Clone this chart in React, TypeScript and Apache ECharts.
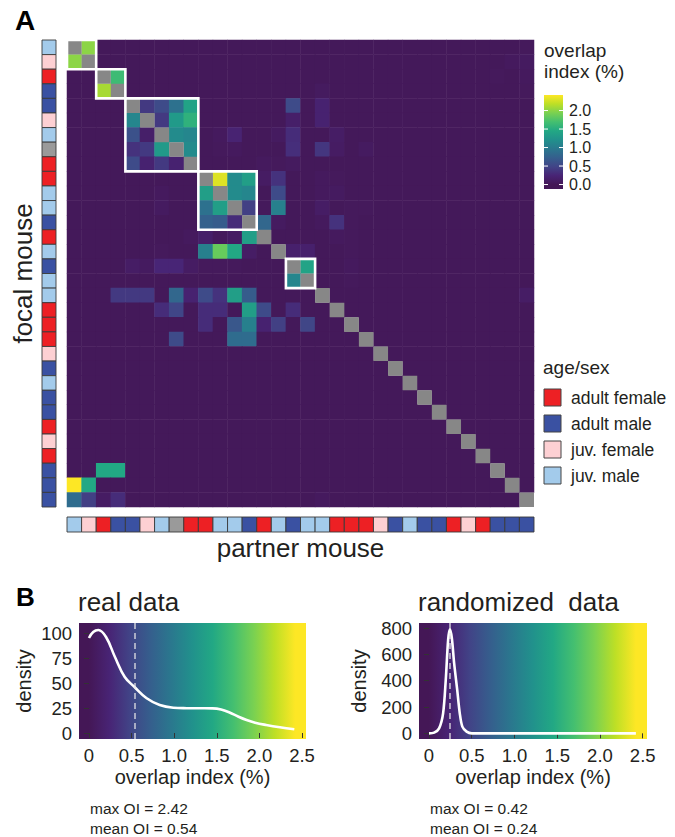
import React, { useEffect, useRef } from 'react';
import * as echarts from 'echarts';

// ---------- DATA ----------
const groupNames = ['adult female', 'adult male', 'juv. female', 'juv. male'];
const groupColors = ['#ed2024', '#3a51a2', '#fdd0d3', '#a3cbeb'];
const unknownColor = '#9a9a9a';
const selfColor = '#878787';

// age/sex of each mouse, in heatmap order (top row / left column first)
const mouseGroups = [
  'juv. male', 'juv. female', 'adult female', 'adult male', 'adult male', 'juv. female', 'juv. male', 'unknown',
  'adult female', 'adult female', 'juv. male', 'juv. male', 'adult male', 'adult female', 'juv. male', 'adult male',
  'juv. male', 'juv. male', 'adult female', 'adult female', 'adult female', 'juv. female', 'adult male', 'juv. male',
  'adult male', 'adult male', 'adult female', 'juv. female', 'adult female', 'adult male', 'adult male', 'adult male',
];
const mouseIds = mouseGroups.map((_, i) => 'mouse ' + (i + 1));

// overlap index (%) of non-background cells: [focal row, partner column, value]
const overlapCells: [number, number, number][] = [
  [0, 1, 2.0], [0, 31, 0.05],
  [1, 0, 2.0], [1, 30, 0.06], [1, 31, 0.08],
  [2, 3, 1.65], [2, 29, 0.05], [2, 31, 0.06],
  [3, 2, 2.1], [3, 17, 0.07], [3, 31, 0.05],
  [4, 5, 0.4], [4, 6, 0.55], [4, 7, 0.9], [4, 8, 1.4], [4, 15, 0.55], [4, 17, 0.2],
  [5, 4, 1.1], [5, 6, 0.4], [5, 7, 1.3], [5, 8, 1.55], [5, 15, 0.15], [5, 17, 0.2],
  [6, 4, 0.6], [6, 5, 0.15], [6, 7, 1.15], [6, 8, 1.1], [6, 10, 0.06], [6, 11, 0.22], [6, 14, 0.08], [6, 15, 0.3], [6, 18, 0.12],
  [7, 4, 0.35], [7, 5, 0.4], [7, 6, 1.3], [7, 8, 1.15], [7, 10, 0.05], [7, 11, 0.06], [7, 15, 0.32], [7, 17, 0.38], [7, 18, 0.1], [7, 20, 0.08],
  [8, 4, 0.55], [8, 5, 0.2], [8, 6, 0.4], [8, 7, 0.2], [8, 13, 0.06], [8, 14, 0.05], [8, 15, 0.07],
  [9, 10, 2.3], [9, 11, 1.15], [9, 12, 1.35], [9, 13, 0.1], [9, 14, 0.35], [9, 17, 0.06], [9, 18, 0.05],
  [10, 6, 0.06], [10, 9, 1.35], [10, 11, 1.15], [10, 12, 1.1], [10, 14, 0.55], [10, 17, 0.06], [10, 18, 0.08],
  [11, 6, 0.08], [11, 9, 0.9], [11, 10, 1.35], [11, 12, 0.45], [11, 13, 0.05], [11, 14, 1.05], [11, 17, 0.12], [11, 19, 0.05], [11, 20, 0.05],
  [12, 9, 0.75], [12, 10, 0.7], [12, 11, 0.3], [12, 13, 0.8], [12, 14, 0.08], [12, 17, 0.06], [12, 18, 0.35], [12, 19, 0.05],
  [13, 8, 0.06], [13, 9, 0.15], [13, 10, 0.05], [13, 11, 0.1], [13, 12, 1.35], [13, 18, 0.06], [13, 19, 0.05],
  [14, 6, 0.05], [14, 9, 1.05], [14, 10, 1.85], [14, 11, 1.45], [14, 12, 0.12], [14, 15, 0.17], [14, 16, 0.17], [14, 19, 0.05],
  [15, 4, 0.12], [15, 5, 0.08], [15, 6, 0.25], [15, 7, 0.25], [15, 8, 0.1], [15, 9, 0.05], [15, 10, 0.05], [15, 11, 0.05], [15, 16, 1.4], [15, 19, 0.06],
  [16, 15, 1.1], [16, 19, 0.05],
  [17, 3, 0.4], [17, 4, 0.4], [17, 5, 0.4], [17, 7, 0.8], [17, 8, 0.2], [17, 9, 0.55], [17, 10, 0.35], [17, 11, 1.35], [17, 12, 0.7], [17, 31, 0.12],
  [18, 6, 0.3], [18, 7, 0.5], [18, 9, 0.3], [18, 10, 0.3], [18, 12, 1.35], [18, 13, 0.55], [18, 15, 0.3],
  [19, 9, 0.3], [19, 11, 0.65], [19, 12, 1.05], [19, 13, 0.2], [19, 14, 0.45], [19, 16, 0.5],
  [20, 7, 0.55], [20, 11, 0.85], [20, 12, 0.85],
  [29, 2, 1.45], [29, 3, 1.45],
  [30, 0, 2.42], [30, 1, 1.45],
  [31, 0, 0.85], [31, 1, 0.45], [31, 2, 0.1], [31, 3, 0.3], [31, 17, 0.06],
];
const backgroundOverlap = 0.03;
const maxOverlap = 2.42;

// social clusters outlined in white: [first index, last index]
const clusters: [number, number][] = [[0, 1], [2, 3], [4, 8], [9, 12], [15, 16]];

// colour-bar tick labels
const colorbarTicks = [0, 0.5, 1.0, 1.5, 2.0];

// panel B densities
const realDensityX = [0, 0.05, 0.11, 0.2, 0.305, 0.42, 0.535, 0.677, 0.83, 0.99, 1.15, 1.3, 1.45, 1.55, 1.65, 1.75, 1.85, 1.95, 2.08, 2.24, 2.41];
const realDensityY = [95, 101, 103, 96, 76, 56, 46, 34.7, 28, 25.3, 24.8, 24.7, 24.6, 23.5, 20.5, 16.5, 13, 10.3, 8, 5.7, 3.7];
const randomDensityX = [0, 0.06, 0.118, 0.165, 0.196, 0.224, 0.244, 0.267, 0.294, 0.33, 0.36, 0.39, 0.44, 0.5, 1.0, 1.5, 2.0, 2.42];
const randomDensityY = [0, 5, 38, 152, 406, 711, 790, 724, 533, 330, 152, 51, 13, 0, 0, 0, 0, 0];
const realStats = { max: 2.42, mean: 0.54 };
const randomStats = { max: 0.42, mean: 0.24 };
const xTicks = [0, 0.5, 1.0, 1.5, 2.0, 2.5];
const realYTicks = [0, 25, 50, 75, 100];
const randomYTicks = [0, 200, 400, 600, 800];

// viridis (first stop matched to the printed dark purple of the figure)
const viridis = ['#441756', '#482475', '#414487', '#355f8d', '#2a788e', '#21918c', '#22a884', '#44bf70', '#7ad151', '#bddf26', '#fde725'];

// ---------- HELPERS ----------
const FONT = '"Liberation Sans", Arial, Helvetica, sans-serif';
const TXT = '#231f20';

function panelGradient(xmin: number, xmax: number) {
  const stops: { offset: number; color: string }[] = [{ offset: 0, color: viridis[0] }];
  viridis.forEach((c, i) => {
    const v = (i / (viridis.length - 1)) * maxOverlap;
    stops.push({ offset: (v - xmin) / (xmax - xmin), color: c });
  });
  stops.push({ offset: 1, color: viridis[viridis.length - 1] });
  return new echarts.graphic.LinearGradient(0, 0, 1, 0, stops);
}

const fmtX = (v: number) => (v === 0 ? '0' : v.toFixed(1));

function cellRect(api: any, fill: string, stroke?: string, lineWidth?: number) {
  const p = api.coord([api.value(0), api.value(1)]);
  const s = api.size([1, 1]);
  return {
    type: 'rect',
    shape: { x: p[0] - s[0] / 2, y: p[1] - s[1] / 2, width: s[0], height: s[1] },
    style: stroke ? { fill, stroke, lineWidth } : { fill },
  };
}

export default function App() {
  const ref = useRef<HTMLDivElement>(null);

  useEffect(() => {
    if (!ref.current) return;
    const chart = echarts.init(ref.current, undefined, { renderer: 'svg' });

    // build heatmap table
    const lookup: Record<string, number> = {};
    overlapCells.forEach(([r, c, v]) => (lookup[r + '_' + c] = v));
    const heatData: number[][] = [];
    const diagData: number[][] = [];
    mouseIds.forEach((_, r) => {
      mouseIds.forEach((__, c) => {
        if (r === c) diagData.push([c, r]);
        else heatData.push([c, r, lookup[r + '_' + c] ?? backgroundOverlap]);
      });
    });

    const hx = 67, hy = 40, hs = 467;

    // colour bar
    const cbX = 544, cbTop = 95, cbH = 94, cbW = 19, cbPxPerUnit = 37;
    const cbZeroY = cbTop + maxOverlap * cbPxPerUnit;
    const cbStops = viridis.map((c, i) => {
      const v = (i / (viridis.length - 1)) * maxOverlap;
      return { offset: ((maxOverlap - v) * cbPxPerUnit) / cbH, color: c };
    }).reverse();
    cbStops.push({ offset: 1, color: viridis[0] });

    const graphics: any[] = [
      {
        type: 'text', left: 544, top: 40,
        style: { text: 'overlap\nindex (%)', fontSize: 19, lineHeight: 21, fill: TXT, fontFamily: FONT },
      },
      {
        type: 'rect', shape: { x: cbX, y: cbTop, width: cbW, height: cbH },
        style: { fill: new echarts.graphic.LinearGradient(0, 0, 0, 1, cbStops) },
      },
    ];
    colorbarTicks.forEach((t) => {
      const y = cbZeroY - t * cbPxPerUnit;
      graphics.push(
        { type: 'line', shape: { x1: cbX, y1: y, x2: cbX + 4, y2: y }, style: { stroke: '#fff', lineWidth: 1 } },
        { type: 'line', shape: { x1: cbX + cbW - 4, y1: y, x2: cbX + cbW, y2: y }, style: { stroke: '#fff', lineWidth: 1 } },
        {
          type: 'text', x: 569, y,
          style: { text: t.toFixed(1), fontSize: 16, fill: TXT, fontFamily: FONT, verticalAlign: 'middle' },
        },
      );
    });

    // age/sex legend
    graphics.push({
      type: 'text', left: 543, top: 358,
      style: { text: 'age/sex', fontSize: 19, fill: TXT, fontFamily: FONT },
    });
    groupNames.forEach((g, i) => {
      const y = 389 + i * 26;
      graphics.push(
        { type: 'rect', shape: { x: 544, y, width: 17, height: 17 }, style: { fill: groupColors[i], stroke: '#444', lineWidth: 1 } },
        { type: 'text', x: 571, y: y + 8.5, style: { text: g, fontSize: 17.5, fill: TXT, fontFamily: FONT, verticalAlign: 'middle' } },
      );
    });

    // stats
    [[90, realStats], [430, randomStats]].forEach(([x, s]: any) => {
      graphics.push(
        { type: 'text', x, y: 808, style: { text: 'max OI = ' + s.max.toFixed(2), fontSize: 15.5, fill: TXT, fontFamily: FONT, verticalAlign: 'middle' } },
        { type: 'text', x, y: 828, style: { text: 'mean OI = ' + s.mean.toFixed(2), fontSize: 15.5, fill: TXT, fontFamily: FONT, verticalAlign: 'middle' } },
      );
    });

    const hiddenCat = (data: string[], extra: any = {}) => ({
      type: 'category', data, axisLine: { show: false }, axisTick: { show: false },
      axisLabel: { show: false }, splitLine: { show: false }, ...extra,
    });

    const densityX = (gridIndex: number, max: number) => ({
      type: 'value', gridIndex, min: -0.117, max,
      name: 'overlap index (%)', nameLocation: 'middle', nameGap: 28,
      nameTextStyle: { fontSize: 20, color: TXT, fontFamily: FONT },
      axisLine: { show: false },
      axisTick: { show: true, customValues: xTicks, length: 5, lineStyle: { color: '#333' } },
      axisLabel: { customValues: xTicks, formatter: fmtX, fontSize: 18.5, color: TXT, margin: 7, fontFamily: FONT },
      splitLine: { show: false },
    });
    const densityY = (gridIndex: number, min: number, max: number, ticks: number[], gap: number) => ({
      type: 'value', gridIndex, min, max,
      name: 'density', nameLocation: 'middle', nameGap: gap, nameRotate: 90,
      nameTextStyle: { fontSize: 20, color: TXT, fontFamily: FONT },
      axisLine: { show: false },
      axisTick: { show: true, customValues: ticks, length: 5, lineStyle: { color: '#333' } },
      axisLabel: { customValues: ticks, fontSize: 18.5, color: TXT, margin: 7, fontFamily: FONT },
      splitLine: { show: false },
    });

    const meanLine = (x: number) => ({
      symbol: 'none', silent: true, label: { show: false },
      lineStyle: { color: 'rgba(230,230,230,0.85)', type: [6, 4], width: 1.5 },
      data: [{ xAxis: x }],
    });

    const option: any = {
      animation: false,
      backgroundColor: '#ffffff',
      textStyle: { fontFamily: FONT },
      title: [
        { text: 'A', left: 15, top: 6, padding: 0, textStyle: { fontSize: 28, fontWeight: 'bold', color: '#000', fontFamily: FONT } },
        { text: 'B', left: 16, top: 584, padding: 0, textStyle: { fontSize: 26, fontWeight: 'bold', color: '#000', fontFamily: FONT } },
        { text: 'real data', left: 78, top: 589, padding: 0, textStyle: { fontSize: 26, fontWeight: 'normal', color: TXT, fontFamily: FONT } },
        { text: 'randomized  data', left: 418, top: 589, padding: 0, textStyle: { fontSize: 26, fontWeight: 'normal', color: TXT, fontFamily: FONT } },
      ],
      visualMap: {
        type: 'continuous', show: false, seriesIndex: 0, min: 0, max: maxOverlap,
        inRange: { color: viridis },
      },
      graphic: graphics,
      grid: [
        { left: hx, top: hy, width: hs, height: hs },
        { left: 42, top: hy, width: 14, height: hs },
        { left: hx, top: 517, width: hs, height: 15 },
        { left: 79, top: 623, width: 227, height: 116, show: true, borderWidth: 0, backgroundColor: panelGradient(-0.117, 2.547) },
        { left: 419, top: 623, width: 228, height: 116, show: true, borderWidth: 0, backgroundColor: panelGradient(-0.117, 2.55) },
      ],
      xAxis: [
        hiddenCat(mouseIds, { gridIndex: 0 }),
        hiddenCat(['group'], { gridIndex: 1 }),
        hiddenCat(mouseIds, {
          gridIndex: 2, name: 'partner mouse', nameLocation: 'middle', nameGap: 3,
          nameTextStyle: { fontSize: 26, color: TXT, fontFamily: FONT, verticalAlign: 'top' },
        }),
        densityX(3, 2.547),
        densityX(4, 2.55),
      ],
      yAxis: [
        hiddenCat(mouseIds, { gridIndex: 0, inverse: true }),
        hiddenCat(mouseIds, {
          gridIndex: 1, inverse: true, name: 'focal mouse', nameLocation: 'middle', nameGap: 6, nameRotate: 90,
          nameTextStyle: { fontSize: 26, color: TXT, fontFamily: FONT },
        }),
        hiddenCat(['group'], { gridIndex: 2 }),
        densityY(3, -6, 110, realYTicks, 45),
        densityY(4, -43, 838, randomYTicks, 50),
      ],
      series: [
        {
          type: 'heatmap', xAxisIndex: 0, yAxisIndex: 0, data: heatData,
          itemStyle: { borderWidth: 0 }, emphasis: { disabled: true },
        },
        {
          type: 'custom', xAxisIndex: 0, yAxisIndex: 0, silent: true, data: diagData,
          renderItem: (params: any, api: any) => cellRect(api, selfColor),
        },
        {
          type: 'custom', xAxisIndex: 0, yAxisIndex: 0, clip: false, silent: true,
          encode: { x: [0, 2], y: [1, 3] },
          data: clusters.map(([a, b]) => [a, a, b, b]),
          renderItem: (params: any, api: any) => {
            const p0 = api.coord([api.value(0), api.value(1)]);
            const p1 = api.coord([api.value(2), api.value(3)]);
            const s = api.size([1, 1]);
            const x0 = Math.min(p0[0], p1[0]) - s[0] / 2;
            const y0 = Math.min(p0[1], p1[1]) - s[1] / 2;
            return {
              type: 'rect',
              shape: { x: x0, y: y0, width: Math.abs(p1[0] - p0[0]) + s[0], height: Math.abs(p1[1] - p0[1]) + s[1] },
              style: { fill: 'none', stroke: '#ffffff', lineWidth: 2.6 },
            };
          },
        },
        {
          type: 'custom', xAxisIndex: 1, yAxisIndex: 1, silent: true,
          data: mouseGroups.map((g, i) => [0, i, groupNames.indexOf(g)]),
          renderItem: (params: any, api: any) => {
            const gi = api.value(2);
            return cellRect(api, gi >= 0 ? groupColors[gi] : unknownColor, '#3a3a3a', 0.9);
          },
        },
        {
          type: 'custom', xAxisIndex: 2, yAxisIndex: 2, silent: true,
          data: mouseGroups.map((g, i) => [i, 0, groupNames.indexOf(g)]),
          renderItem: (params: any, api: any) => {
            const gi = api.value(2);
            return cellRect(api, gi >= 0 ? groupColors[gi] : unknownColor, '#3a3a3a', 0.9);
          },
        },
        {
          type: 'line', xAxisIndex: 3, yAxisIndex: 3, showSymbol: false, smooth: 0.4, silent: true,
          data: realDensityX.map((x, i) => [x, realDensityY[i]]),
          lineStyle: { color: '#ffffff', width: 2.6 },
          markLine: meanLine(realStats.mean),
        },
        {
          type: 'line', xAxisIndex: 4, yAxisIndex: 4, showSymbol: false, smooth: 0.3, silent: true,
          data: randomDensityX.map((x, i) => [x, randomDensityY[i]]),
          lineStyle: { color: '#ffffff', width: 2.6 },
          markLine: meanLine(randomStats.mean),
        },
      ],
    };
    chart.setOption(option);
    return () => chart.dispose();
  }, []);

  return <div ref={ref} style={{ position: 'fixed', left: 0, top: 0, width: 675, height: 837 }} />;
}
